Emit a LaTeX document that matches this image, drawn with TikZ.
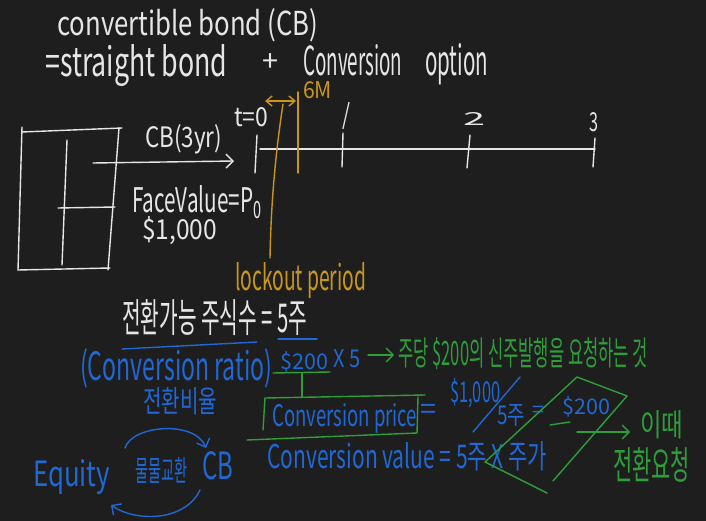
\documentclass[tikz,border=0pt]{standalone}
\usepackage{fontspec}
\usepackage{graphicx}
\setmainfont{Noto Sans CJK KR}
\usetikzlibrary{arrows.meta}
\definecolor{bg}{HTML}{1E1E1E}
\definecolor{wh}{HTML}{E6E6E6}
\definecolor{og}{HTML}{C8961E}
\definecolor{bl}{HTML}{1F68D6}
\definecolor{gr}{HTML}{2E9E3A}
\newcommand{\fw}[2]{\resizebox{#1pt}{!}{#2}}
\newcommand{\fwh}[3]{\resizebox{#1pt}{#2pt}{#3}}
\begin{document}
\begin{tikzpicture}[x=1pt,y=-1pt, line cap=round, line join=round,
  ink/.style={line width=1.4pt},
  txt/.style={inner sep=0pt, anchor=center},
  lt/.style={inner sep=0pt, anchor=base west},
  barb/.style={-{Straight Barb[length=7pt,width=14pt,line width=1.4pt]}},
  barbs/.style={{Straight Barb[length=6pt,width=10pt,line width=1.4pt]}-{Straight Barb[length=6pt,width=10pt,line width=1.4pt]}}]
\fill[bg] (0,0) rectangle (706,521);
\useasboundingbox (0,0) rectangle (706,521);

% ---------- title ----------
\node[lt,text=wh] (title) at (57,36) {\fwh{261}{27}{convertible bond (CB)}};
\node[lt,text=wh] (eqa) at (45,77) {\fwh{182}{32}{=straight bond}};
\node[txt,text=wh] (eqb) at (270,63) {\fw{16}{+}};
\node[lt,text=wh] (eqc) at (303,76) {\fwh{99}{31}{Conversion}};
\node[lt,text=wh] (eqd) at (425,76) {\fwh{63}{32}{option}};

% ---------- left box ----------
\draw[ink,wh] (22,132) -- (122,128);
\draw[ink,wh] (22,127) -- (18,270);
\draw[ink,wh] (119,128) -- (108,270);
\draw[ink,wh] (18,270) -- (110,268);
\draw[ink,wh] (67,140) -- (62,265);
\draw[ink,wh] (58,208) -- (115,207);

\coordinate (arrS) at (93,163);
\coordinate (arrE) at (234,161);
\draw[ink,wh,barb] (arrS) -- (arrE);
\node[lt,text=wh] (cb3) at (145,148) {\fwh{77}{23}{CB(3yr)}};
\node[lt,text=wh] (fv) at (132,213) {\fwh{130}{27}{FaceValue=P\textsubscript{0}}};
\node[lt,text=wh] (usd) at (142,240) {\fwh{75}{23}{\$1,000}};

% ---------- timeline ----------
\coordinate (t0) at (260,149);
\coordinate (t3) at (595,149);
\draw[ink,wh] (t0) -- (t3);
\draw[ink,wh] (257,135) -- (255,173);
\draw[ink,wh] (343,133) -- (342,167);
\draw[ink,wh] (470,135) -- (467,168);
\draw[ink,wh] (595,138) -- (593,167);
\node[lt,text=wh] (lt0) at (234,127) {\fwh{34}{19}{t=0}};
\node[txt,text=wh] (lt1) at (346,116) {\fwh{8}{22}{/}};
\node[txt,text=wh] (lt2) at (474,119) {\fwh{22}{13}{2}};
\node[txt,text=wh] (lt3) at (594,122) {\fwh{9}{19}{3}};

% ---------- lockout ----------
\draw[ink,og] (298,92) -- (298,173);
\coordinate (laL) at (265,101);
\coordinate (laR) at (296,101);
\draw[ink,og,barbs] (laL) -- (laR);
\draw[ink,og] (283,104) .. controls (276,150) and (271,200) .. (270,258);
\node[lt,text=og] (sixm) at (303,99) {\fwh{29}{17}{6M}};
\node[lt,text=og] (lock) at (235,290) {\fwh{131}{28}{lockout period}};

% ---------- conversion ratio ----------
\node[lt,text=wh] (nshare) at (122,332) {\fwh{185}{33}{전환가능 주식수 = 5주}};
\draw[ink,bl] (122,349) -- (257,342);
\draw[ink,bl] (278,339) -- (317,339);
\node[lt,text=bl] (cratio) at (80,380) {\fwh{192}{32}{(Conversion ratio)}};
\node[lt,text=bl] (cratiok) at (143,412) {\fwh{74}{25}{전환비율}};
\node[lt,text=bl] (p200) at (280,369) {\fwh{48}{18}{\$200}};
\node[lt,text=bl] (x5) at (333,367) {\fwh{27}{18}{X 5}};
\draw[ink,gr] (273,373) -- (330,372);
\coordinate (gaS) at (368,355);
\coordinate (gaE) at (394,355);
\draw[ink,gr,barb] (gaS) -- (gaE);
\node[lt,text=gr] (note) at (398,365) {\fwh{250}{28}{주당 \$200의 신주발행을 요청하는 것}};

% ---------- conversion price ----------
\draw[ink,gr] (302,373) -- (302,397);
\draw[ink,gr] (265,398) -- (425,395);
\draw[ink,gr] (265,398) -- (263,430);
\draw[ink,gr] (418,397) -- (417,433);
\draw[ink,gr] (247,440) -- (417,433);
\node[lt,text=bl] (cprice) at (272,426) {\fwh{145}{23}{Conversion price}};
\node[txt,text=bl] (eq1) at (428,412) {\fw{16}{=}};
\node[lt,text=bl] (k1000) at (450,402) {\fwh{50}{24}{\$1,000}};
\draw[ink,bl] (520,377) -- (473,432);
\node[lt,text=bl] (five) at (497,424) {\fwh{28}{20}{5주}};
\node[txt,text=bl] (eq2) at (538,412) {\fw{12}{=}};
\node[lt,text=bl] (r200) at (562,414) {\fwh{48}{18}{\$200}};

% ---------- conversion value ----------
\node[lt,text=bl] (cvalue) at (267,468) {\fwh{280}{27}{Conversion value = 5주 X 주가}};

% green frame and arrow
\draw[ink,gr] (547,493) -- (485,462) -- (577,377) -- (627,396) -- (553,481);
\draw[ink,gr] (550,425) -- (570,422);
\coordinate (raS) at (577,432);
\coordinate (raE) at (630,432);
\draw[ink,gr,barb] (raS) -- (raE);
\node[lt,text=gr] (idae) at (640,436) {\fwh{43}{26}{이때}};
\node[lt,text=gr] (req) at (613,479) {\fwh{77}{32}{전환요청}};

% ---------- equity barter ----------
\node[lt,text=bl] (equity) at (33,486) {\fwh{77}{27}{Equity}};
\node[lt,text=bl] (barter) at (135,481) {\fwh{52}{24}{물물교환}};
\node[lt,text=bl] (cbb) at (202,479) {\fwh{31}{28}{CB}};
\coordinate (uaS) at (125,448);
\coordinate (uaE) at (206,448);
\draw[ink,bl,barb] (uaS) .. controls (132,425) and (195,420) .. (uaE);
\coordinate (laS) at (200,490);
\coordinate (laE) at (111,505);
\draw[ink,bl,barb] (laS) .. controls (185,522) and (135,522) .. (laE);
\end{tikzpicture}
\end{document}
